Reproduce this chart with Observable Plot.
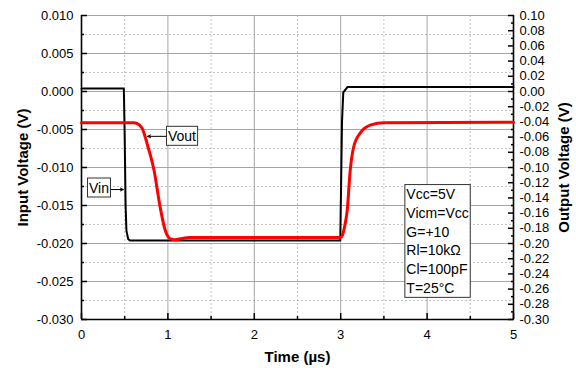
<!DOCTYPE html>
<html><head><meta charset="utf-8">
<script src="https://cdn.jsdelivr.net/npm/d3@7"></script>
<script src="https://cdn.jsdelivr.net/npm/@observablehq/plot@0.6"></script>
<style>
body{margin:0;background:#fff;}
svg{font-family:"Liberation Sans",Arial,sans-serif;}
g[aria-label="x-axis label"] text, g[aria-label="y-axis label"] text{font-weight:bold;font-size:15px;}
</style></head><body>
<div id="chart"></div>
<script>
// Input voltage (black, left axis, V)
const vinTime  = [0, 0.49, 0.50, 0.51, 0.52, 0.54, 0.56, 2.995, 3.005, 3.015, 3.03, 3.08, 5];
const vinVolts = [0.0004, 0.0004, -0.006, -0.0148, -0.0183, -0.0194, -0.0196, -0.0196, -0.012, -0.004, -0.0001, 0.0006, 0.0006];
// Output voltage (red, right axis, V)
const voutTime  = [0, 0.60, 0.64, 0.70, 0.77, 0.84, 0.91, 0.97, 1.03, 1.08, 1.25, 3.00, 3.02, 3.05, 3.075, 3.11, 3.15, 3.23, 3.35, 3.50, 5];
const voutVolts = [-0.041, -0.041, -0.042, -0.048, -0.073, -0.104, -0.152, -0.183, -0.194, -0.195, -0.192, -0.192, -0.189, -0.175, -0.157, -0.104, -0.073, -0.054, -0.044, -0.041, -0.0405];
const axisRatio = 10; // right axis = 10 x left axis

const xMajor = [0, 1, 2, 3, 4, 5];
const xMinor = [0.5, 1.5, 2.5, 3.5, 4.5];
const leftMajor = [0.010, 0.005, 0.000, -0.005, -0.010, -0.015, -0.020, -0.025, -0.030];
const leftMinor = [0.0075, 0.0025, -0.0025, -0.0075, -0.0125, -0.0175, -0.0225, -0.0275];
const rightMajor = [0.10, 0.08, 0.06, 0.04, 0.02, 0.00, -0.02, -0.04, -0.06, -0.08, -0.10, -0.12, -0.14, -0.16, -0.18, -0.20, -0.22, -0.24, -0.26, -0.28, -0.30];
const rightMinor = [0.09, 0.07, 0.05, 0.03, 0.01, -0.01, -0.03, -0.05, -0.07, -0.09, -0.11, -0.13, -0.15, -0.17, -0.19, -0.21, -0.23, -0.25, -0.27, -0.29];

const labelText = ["Vin", "Vout"];
const labelX = [0.2025, 1.163];
const labelY = [-0.0127, -0.0059];
const arrowFrom = [0.345, 0.982];
const arrowTo = [0.485, 0.765];
const arrowY = [-0.0129, -0.0059];

const infoLines = ["Vcc=5V", "Vicm=Vcc", "G=+10", "Rl=10kΩ", "Cl=100pF", "T=25°C"];
const infoX = 3.76, infoY = -0.0124;

const vin = vinTime.map((t, i) => ({t, v: vinVolts[i]}));
const vout = voutTime.map((t, i) => ({t, v: voutVolts[i] / axisRatio}));
const labels = labelText.map((text, i) => ({text, x: labelX[i], y: labelY[i]}));
const arrows = arrowFrom.map((x1, i) => ({x1, x2: arrowTo[i], y: arrowY[i]}));

const chart = Plot.plot({
  width: 576, height: 368,
  marginLeft: 81, marginRight: 63, marginTop: 15, marginBottom: 49,
  style: {fontSize: "13px", fontFamily: '"Liberation Sans", Arial, sans-serif', background: "#fff", color: "#000"},
  x: {domain: [0, 5]},
  y: {domain: [-0.030, 0.010]},
  marks: [
    Plot.ruleY(leftMinor, {stroke: "#c4c4c4", strokeDasharray: "2,2"}),
    Plot.ruleX(xMinor, {stroke: "#c4c4c4", strokeDasharray: "2,2"}),
    Plot.ruleY(leftMajor, {stroke: "#a6a6a6"}),
    Plot.ruleX(xMajor, {stroke: "#a6a6a6"}),
    Plot.axisY(leftMajor, {anchor: "left", tickSize: -6, tickPadding: 14, strokeWidth: 1.5, tickFormat: d => d.toFixed(3),
      label: "Input Voltage (V)", labelArrow: "none", labelAnchor: "center", labelOffset: 64}),
    Plot.axisY(leftMinor, {anchor: "left", tickSize: -3, strokeWidth: 1.5, fill: "none", label: null}),
    Plot.axisY(rightMajor.map(v => v / axisRatio), {anchor: "right", tickSize: -6, tickPadding: 12, strokeWidth: 1.5,
      tickFormat: d => (d * axisRatio).toFixed(2), label: "Output Voltage (V)", labelArrow: "none", labelAnchor: "center", labelOffset: 55}),
    Plot.axisY(rightMinor.map(v => v / axisRatio), {anchor: "right", tickSize: -3, strokeWidth: 1.5, fill: "none", label: null}),
    Plot.axisX(xMajor, {anchor: "bottom", tickSize: -6, tickPadding: 16, strokeWidth: 1.5, tickFormat: d => String(d),
      label: "Time (µs)", labelArrow: "none", labelAnchor: "center", labelOffset: 42}),
    Plot.axisX(xMinor, {anchor: "bottom", tickSize: -3, strokeWidth: 1.5, fill: "none", label: null}),
    Plot.ruleX([0, 5], {stroke: "#000", strokeWidth: 1.6}),
    Plot.ruleY([-0.030], {stroke: "#000", strokeWidth: 1.6}),
    Plot.line(vin, {x: "t", y: "v", stroke: "#000", strokeWidth: 2}),
    Plot.line(vout, {x: "t", y: "v", stroke: "#ff0000", strokeWidth: 3, curve: "monotone-x"}),
    Plot.arrow(arrows, {x1: "x1", x2: "x2", y1: "y", y2: "y", stroke: "#000", strokeWidth: 1, headLength: 5, headAngle: 50}),
    Plot.text(labels, {x: "x", y: "y", text: "text", fontSize: 14, className: "anno"}),
    Plot.text([{x: infoX, y: infoY, text: infoLines.join("\n")}], {x: "x", y: "y", text: "text", fontSize: 14,
      textAnchor: "start", lineAnchor: "top", lineHeight: 1.34, className: "anno"})
  ]
});
document.getElementById("chart").append(chart);

// draw boxes behind annotation texts
const ns = "http://www.w3.org/2000/svg";
const boxTexts = new Set([...labelText, infoLines.join("")]);
chart.querySelectorAll("text").forEach(t => {
  if (!boxTexts.has(t.textContent)) return;
  const b = t.getBBox();
  const pad = 1.5;
  const r = document.createElementNS(ns, "rect");
  r.setAttribute("x", b.x - pad);
  r.setAttribute("y", b.y - pad);
  r.setAttribute("width", b.width + 2 * pad);
  r.setAttribute("height", b.height + 2 * pad);
  r.setAttribute("fill", "#fff");
  r.setAttribute("stroke", "#333");
  r.setAttribute("stroke-width", "1");
  if (t.getAttribute("transform")) r.setAttribute("transform", t.getAttribute("transform"));
  t.parentNode.insertBefore(r, t);
});
</script>
</body></html>
